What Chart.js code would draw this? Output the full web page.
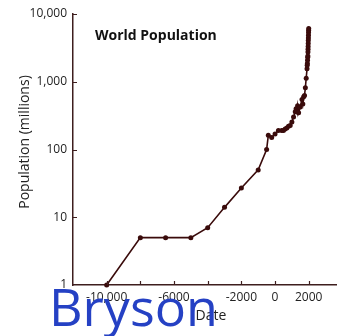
<!DOCTYPE html>
<html>
<head>
<meta charset="utf-8">
<script src="https://cdn.jsdelivr.net/npm/chart.js@4/dist/chart.umd.min.js"></script>
<style>
  html, body { margin: 0; padding: 0; background: #fff; overflow: hidden; }
  #wrap { width: 337px; height: 336px; }
</style>
</head>
<body>
<div id="wrap"><canvas id="c" width="337" height="336"></canvas></div>
<script>
// World population estimates (millions) by year
const years = [-10000, -8000, -6500, -5000, -4000, -3000, -2000, -1000, -500, -400,
  -200, 0, 200, 400, 500, 600, 700, 800, 900, 1000,
  1100, 1200, 1250, 1300, 1340, 1400, 1500, 1600, 1650, 1700,
  1750, 1800, 1850, 1900, 1910, 1920, 1930, 1940, 1950, 1955,
  1960, 1965, 1970, 1975, 1980, 1985, 1990, 1995, 2000];
const population = [1, 5, 5, 5, 7, 14, 27, 50, 100, 162,
  150, 170, 190, 190, 190, 200, 207, 220, 226, 254,
  301, 360, 400, 360, 443, 350, 425, 545, 470, 600,
  629, 813, 1128, 1550, 1750, 1860, 2070, 2300, 2400, 2758,
  3018, 3322, 3682, 4061, 4440, 4853, 5310, 5735, 6127];

const yTickValues = [1, 10, 100, 1000, 10000];
const yTickLabels = ['1', '10', '100', '1,000', '10,000'];
const xTickValues = [-10000, -8000, -6000, -4000, -2000, 0, 2000];
const xTickLabels = ['-10,000', '', '-6000', '', '-2000', '0', '2000'];

const chartTitle = 'World Population';
const xTitle = 'Date';
const yTitle = 'Population (millions)';
const stamp = 'Bryson';

const AXIS = '#3e1e1e';
const LINE = '#3a0b0b';
const TEXT = '#222';
const FONT = '"Open Sans", "DejaVu Sans", sans-serif';

const decor = {
  id: 'decor',
  afterDraw(chart) {
    const { ctx, chartArea: a, scales: { x, y } } = chart;
    ctx.save();
    // inward tick marks
    ctx.strokeStyle = AXIS;
    ctx.lineWidth = 1.2;
    ctx.beginPath();
    x.ticks.forEach(t => {
      const px = Math.round(x.getPixelForValue(t.value)) + 0.5;
      ctx.moveTo(px, a.bottom);
      ctx.lineTo(px, a.bottom - 4);
    });
    y.ticks.forEach(t => {
      if (t.value === 1) return;
      const py = Math.round(y.getPixelForValue(t.value)) + 0.5;
      ctx.moveTo(a.left, py);
      ctx.lineTo(a.left + 4, py);
    });
    ctx.stroke();

    // chart title
    ctx.fillStyle = '#111';
    ctx.font = 'bold 14px ' + FONT;
    ctx.textAlign = 'left';
    ctx.textBaseline = 'alphabetic';
    ctx.fillText(chartTitle, a.left + 22, 40);

    // axis titles
    ctx.fillStyle = TEXT;
    ctx.font = '14px ' + FONT;
    ctx.textAlign = 'center';
    ctx.fillText(xTitle, 211, 320);
    ctx.save();
    ctx.translate(25, 142);
    ctx.rotate(-Math.PI / 2);
    ctx.textBaseline = 'middle';
    ctx.fillText(yTitle, 0, 0);
    ctx.restore();

    // overlaid name
    ctx.fillStyle = '#2541c4';
    ctx.font = '52px ' + FONT;
    ctx.textAlign = 'left';
    ctx.textBaseline = 'alphabetic';
    ctx.fillText(stamp, 49, 326);
    ctx.restore();
  }
};

function draw() {
  new Chart(document.getElementById('c'), {
    type: 'scatter',
    data: {
      datasets: [{
        data: years.map((yr, i) => ({ x: yr, y: population[i] })),
        showLine: true,
        borderColor: LINE,
        backgroundColor: LINE,
        borderWidth: 1.6,
        pointRadius: 2.5,
        pointBorderWidth: 0,
        clip: false
      }]
    },
    options: {
      responsive: false,
      animation: false,
      devicePixelRatio: 1,
      layout: { autoPadding: false, padding: { top: 14, right: 0, bottom: 0, left: 0 } },
      plugins: { legend: { display: false }, tooltip: { enabled: false }, title: { display: false } },
      scales: {
        x: {
          type: 'linear',
          min: -12000,
          max: 3680,
          afterFit(s) { s.height = 51; },
          afterBuildTicks(s) { s.ticks = xTickValues.map(v => ({ value: v })); },
          grid: { display: false, drawTicks: false },
          border: { display: true, color: AXIS, width: 1.5 },
          ticks: {
            padding: 5,
            color: TEXT,
            font: { family: FONT, size: 12 },
            maxRotation: 0,
            autoSkip: false,
            callback: (v) => { const i = xTickValues.indexOf(v); return i >= 0 ? xTickLabels[i] : ''; }
          }
        },
        y: {
          type: 'logarithmic',
          min: 1,
          max: 10000,
          afterFit(s) { s.width = 73; },
          afterBuildTicks(s) { s.ticks = yTickValues.map(v => ({ value: v, major: true })); },
          grid: { display: false, drawTicks: false },
          border: { display: true, color: AXIS, width: 1.5 },
          ticks: {
            padding: 6,
            color: TEXT,
            font: { family: FONT, size: 12 },
            autoSkip: false,
            callback: (v) => { const i = yTickValues.indexOf(v); return i >= 0 ? yTickLabels[i] : ''; }
          }
        }
      }
    },
    plugins: [decor]
  });
}

Promise.all([
  document.fonts.load('12px "Open Sans"'),
  document.fonts.load('bold 14px "Open Sans"'),
  document.fonts.load('52px "Open Sans"')
]).then(draw, draw);
</script>
</body>
</html>
